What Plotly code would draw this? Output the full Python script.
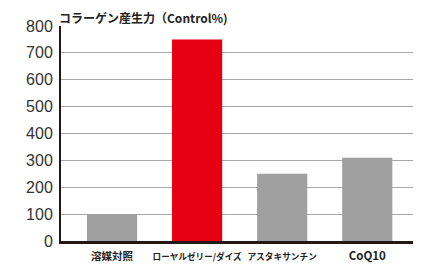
import plotly.graph_objects as go

categories = ["溶媒対照", "ローヤルゼリー/ダイズ", "アスタキサンチン", "CoQ10"]
values = [100, 750, 250, 310]
colors = ["#a0a0a0", "#e60012", "#a0a0a0", "#a0a0a0"]
y_ticks = [0, 100, 200, 300, 400, 500, 600, 700, 800]
title_text = "コラーゲン産生力（Control%)"
label_sizes = [10.5, 8.6, 8.7, 11.5]

font_family = "Noto Sans CJK JP, Noto Sans, sans-serif"

# page body has an 8px default margin, so the figure is shrunk by 8px to fit the window
fig = go.Figure(go.Bar(
    x=categories, y=values, marker=dict(color=colors, line=dict(width=0)),
    width=0.59,
))

fig.update_layout(
    width=413, height=259,
    margin=dict(l=53, r=1, t=18, b=26),
    paper_bgcolor="white", plot_bgcolor="white",
    showlegend=False,
    font=dict(family=font_family, color="#222"),
    annotations=[dict(
        text=f"<b>{title_text}</b>", x=0, y=1.0, xref="paper", yref="paper",
        xanchor="left", yanchor="bottom", showarrow=False, xshift=-4, yshift=-2,
        font=dict(size=12, color="#222", family=font_family),
    )],
)
fig.update_yaxes(
    range=[0, 800], tickvals=y_ticks, showgrid=True, gridcolor="#a8a8a8", gridwidth=1,
    showline=True, linecolor="#231815", linewidth=2, ticks="", zeroline=False,
    automargin=False, ticklabelstandoff=3,
    tickfont=dict(size=16, color="#333", family="Liberation Sans, Arial, sans-serif"),
)
fig.update_xaxes(
    range=[-0.6, 3.62],
    showline=True, linecolor="#231815", linewidth=3, ticks="", showgrid=False,
    tickangle=0, automargin=False, ticklabelstandoff=4,
    tickvals=categories,
    ticktext=[f'<b><span style="font-size:{s}px">{c}</span></b>' for c, s in zip(categories, label_sizes)],
    tickfont=dict(size=10, color="#222", family=font_family),
)

fig.write_html("out.html")
